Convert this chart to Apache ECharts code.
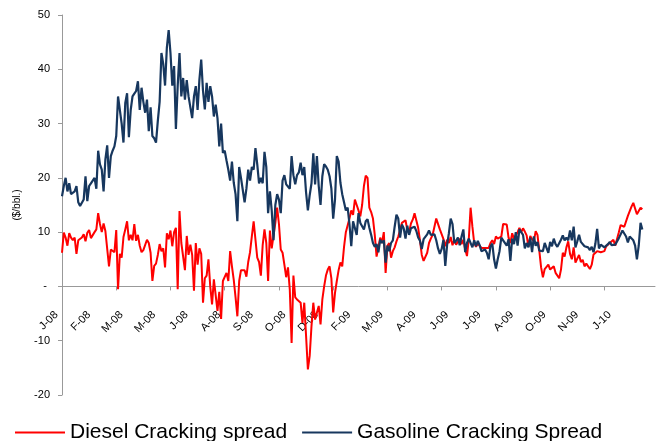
<!DOCTYPE html>
<html>
<head>
<meta charset="utf-8">
<script src="https://cdn.jsdelivr.net/npm/echarts@6/dist/echarts.min.js"></script>
<style>
  html, body { margin: 0; padding: 0; background: #fff; }
  #main { width: 658px; height: 441px; }
</style>
</head>
<body>
<div id="main"></div>
<script>
// x 轴标签（每 18 个点一个），刻度线每 30 个点一条
var tickLabels = ['J-08','F-08','M-08','M-08','J-08','A-08','S-08','O-08','D-08',
                  'F-09','M-09','A-09','J-09','J-09','A-09','O-09','N-09','J-10'];
var labelStep = 18;
var tickStep = 30;
var catCount = 329;

var dieselSpread = [
  6.2, 9.9, 9, 7.5, 9.8, 9, 8.5, 9, 6, 8.5,
  8.7, 9, 9.6, 8.3, 9.9, 10.4, 8.9, 8.8, 10, 10.5,
  13.5, 11.5, 10, 11.6, 10.2, 10, 3.7, 6.8, 6.8, 6.3,
  10.4, -0.5, 6, 5.3, 9.1, 10.5, 12, 8.5, 9.5, 8.5,
  11.5, 8.4, 9.5, 7.5, 6.3, 6.7, 7, 8.6, 8, 6.2,
  1, 3.8, 4.2, 5.8, 7.8, 6.5, 7, 3.5, 9.8, 8.7,
  10.3, 7.4, 10, 10.8, -0.5, 13.9, 8, 8, 3, 9.3,
  5.8, 7.7, 5.8, -0.8, 8, 4, 7, 6, -3, 1.5,
  2, 5, 0, -3.3, 1.3, 1.5, -4.5, -1, -6, 1,
  1, 2.5, 1, 6.5, 3.7, 1.2, -2, -5.5, 1, 3,
  3, 3, 1.8, 4.5, 6.3, 9.2, 12, 12.3, 5.3, 4.5,
  2, 7.6, 10.5, 8, 1, 10.3, 7, 7, 11.7, 14.5,
  11.5, 6.8, 6.2, 4, 1.7, 3.5, -0.6, -10.4, 2, -2,
  -2.4, -2.4, -3, -6.7, -3, -9.1, -15.3, -12.8, -7.3, -3,
  -6.1, -4.8, -3.6, -7, -2.4, 0, 2, 3.1, 3.7, 1.5,
  -4.8, -1.2, 1, 3, 4.4, 3.7, 7.3, 10, 10.3, 12.5,
  14, 13.2, 16, 15, 14, 12.9, 15, 18.5, 20.4, 20,
  14.5, 13.7, 12.5, 9.5, 5.5, 7.2, 9, 8, 10, 2.5,
  7.5, 8, 5.3, 6.5, 7.2, 8.3, 9.2, 10.4, 11.7, 11.7,
  12.2, 10.4, 10, 11.6, 12.3, 13.5, 13.5, 10.8, 8.5, 5.8,
  4.7, 4.4, 6.2, 8, 8.8, 9.5, 11, 12.5, 12.5, 10.5,
  10.2, 8.7, 7.4, 8.6, 8, 9.1, 7.6, 8.6, 7.7, 7.4,
  8.8, 7.8, 8.6, 6.9, 5.6, 8.7, 14.5, 11, 8, 7.3,
  7.9, 7.9, 7.1, 7.2, 7.1, 6.8, 7.1, 8, 8.5, 7.8,
  9.2, 8.8, 9, 9.2, 11.5, 11.2, 11.4, 9, 8, 9.8,
  8.8, 8.5, 10, 10.8, 10, 10.7, 10.1, 9.4, 7.3, 9.3,
  8.7, 8.3, 10.2, 9.5, 6.6, 3.5, 1.7, 3.2, 3.5, 4,
  3.1, 2.8, 3.7, 2.5, 2.3, 1.5, 3.1, 6.2, 5.5, 7.2,
  8.3, 6, 5, 7.2, 4.4, 4.7, 5.8, 4.5, 4.9, 3.7,
  4.2, 3.9, 3.2, 4, 5.9, 6.2, 6.5, 6.5, 6.3, 6.4,
  6.5, 7.4, 7.5, 8, 8, 8.6, 7.5, 7.7, 10, 11.3,
  11.5, 11, 11.2, 13, 12.8, 14.7, 15.4, 15.4, 13.3, 13.9,
  14.5, 14.2
];

var gasolineSpread = [
  16.6, 18.5, 20, 17.5, 19, 17, 17, 17.5, 18.5, 15.5,
  14.8, 15.1, 16, 20.3, 15.7, 18.5, 19, 19, 20, 18,
  25, 22.5, 21.5, 17.5, 23.4, 26, 20, 24, 25, 25.8,
  27.7, 35, 35, 30, 26.5, 33.8, 35.6, 27.5, 32.5, 35,
  35.5, 36, 37.8, 32.5, 36.6, 34, 32, 34.4, 28.6, 33,
  27.7, 27.3, 26.5, 30.5, 34, 43, 41, 37, 44, 47.2,
  43, 37, 40.6, 29, 37, 43, 35, 38.4, 34.4, 38,
  35, 35, 31, 35, 36.9, 32.5, 38.1, 41.8, 36, 32.6,
  37.5, 34, 36.9, 35, 31.3, 33.5, 31, 25.8, 30, 24.6,
  25, 23.2, 21.5, 19.5, 23, 19.1, 17, 12, 22, 20,
  20, 15.5, 18, 21.5, 19.5, 22, 21.5, 25.5, 22.5, 19,
  20, 19, 24.8, 22, 13.5, 17.5, 14, 8.5, 15, 17,
  16, 13.5, 19.5, 20.5, 18.8, 19, 18, 24, 20.5, 18.8,
  20.5, 21, 22.8, 20.5, 22, 17.3, 14, 16.8, 19, 24.5,
  18.8, 24, 18.5, 15, 20.3, 22.5, 22.1, 21.5, 20.3, 18,
  12.5, 16, 24, 23, 19.1, 17, 15.5, 14, 14.5, 11.5,
  7.4, 12, 12.3, 9.5, 13.5, 11.7, 11.4, 10.5, 12, 12.4,
  10.8, 9.5, 8, 7.3, 7.8, 6.3, 8.6, 8, 8.5, 4.4,
  7.5, 6.5, 8, 8.5, 11, 13.2, 12.5, 9, 11.4, 10.7,
  8.8, 11.2, 9.5, 10.7, 10.8, 11, 10.2, 9, 8.4, 6.9,
  8.7, 9, 9.6, 10.3, 9.5, 9.5, 9.6, 8.5, 7, 6,
  6.9, 8.6, 3.8, 7.6, 9.8, 12.5, 11.5, 8, 8.4, 9,
  7.6, 9.2, 10.5, 6.3, 8, 8.8, 9, 7.2, 8.5, 7.4,
  8.4, 7.6, 6.5, 6.4, 6.8, 6.2, 5, 7.4, 7.9, 5,
  3.3, 5, 6.5, 9, 8.5, 8.8, 7.5, 8.7, 4.7, 8.8,
  7.8, 10, 7.5, 10.5, 10, 9.5, 7, 8, 7.2, 9,
  6.3, 9.2, 7.5, 8.2, 6.6, 6.5, 6.5, 8, 7.8, 6.2,
  8.2, 7.4, 8.8, 7.8, 7.3, 7.5, 8.6, 9.4, 8.5, 9,
  8.5, 10.3, 8.5, 11, 7.2, 8.3, 9.5, 8.2, 8.5, 7.4,
  7.3, 7.2, 6.7, 7.3, 6.3, 7.8, 10.6, 7, 7.7, 7.5,
  7.2, 7.4, 7.8, 8.2, 7.6, 7.9, 7.7, 8, 8.9, 9,
  10.3, 10.3, 9.2, 8.1, 9.2, 9.4, 8.5, 7.5, 5, 7.5,
  11.7, 10.5
];

var categories = [];
for (var i = 0; i < catCount; i++) {
  categories.push(String(i));
}

var fontFam = '"Liberation Sans", Arial, sans-serif';
var gridTop = 15, gridBottom = 46, yMin = -20, yMax = 50;
var plotH = 441 - gridTop - gridBottom;
// x 轴放在 0 的位置
var zeroOffset = -plotH * (0 - yMin) / (yMax - yMin);

var myChart = echarts.init(document.getElementById('main'));
myChart.setOption({
  animation: false,
  textStyle: { fontFamily: fontFam },
  grid: { left: 62, right: 3, top: gridTop, bottom: gridBottom, containLabel: false },
  legend: {
    left: 10,
    top: 417,
    icon: 'rect',
    itemWidth: 50,
    itemHeight: 2,
    itemGap: 15,
    textStyle: { fontSize: 21, color: '#000', fontFamily: fontFam },
    data: ['Diesel Cracking spread', 'Gasoline Cracking Spread']
  },
  xAxis: {
    type: 'category',
    data: categories,
    boundaryGap: false,
    position: 'bottom',
    offset: zeroOffset,
    axisLine: { onZero: false, lineStyle: { color: '#999', width: 1 } },
    axisTick: { show: true, interval: tickStep - 1, length: 4, lineStyle: { color: '#999' } },
    axisLabel: {
      interval: labelStep - 1,
      rotate: 45,
      margin: 21,
      padding: [0, 8, 0, 0],
      fontSize: 11,
      color: '#000',
      formatter: function (v, idx) {
        return tickLabels[idx / labelStep] || '';
      }
    },
    splitLine: { show: false }
  },
  yAxis: {
    type: 'value',
    min: yMin,
    max: yMax,
    interval: 10,
    name: '($/bbl.)',
    nameLocation: 'middle',
    nameRotate: 90,
    nameGap: 40,
    nameTextStyle: { fontSize: 10, color: '#000' },
    axisLine: { show: true, lineStyle: { color: '#999', width: 1 } },
    axisTick: { show: true, length: 4, lineStyle: { color: '#999' } },
    axisLabel: {
      margin: 12,
      fontSize: 11,
      color: '#000',
      formatter: function (v) {
        return v === 0 ? '- ' : String(v);
      }
    },
    splitLine: { show: false }
  },
  series: [
    {
      name: 'Diesel Cracking spread',
      type: 'line',
      data: dieselSpread,
      symbol: 'none',
      color: '#FF0000',
      lineStyle: { color: '#FF0000', width: 2 }
    },
    {
      name: 'Gasoline Cracking Spread',
      type: 'line',
      data: gasolineSpread,
      symbol: 'none',
      color: '#17375E',
      lineStyle: { color: '#17375E', width: 2.2 }
    }
  ]
});
</script>
</body>
</html>
